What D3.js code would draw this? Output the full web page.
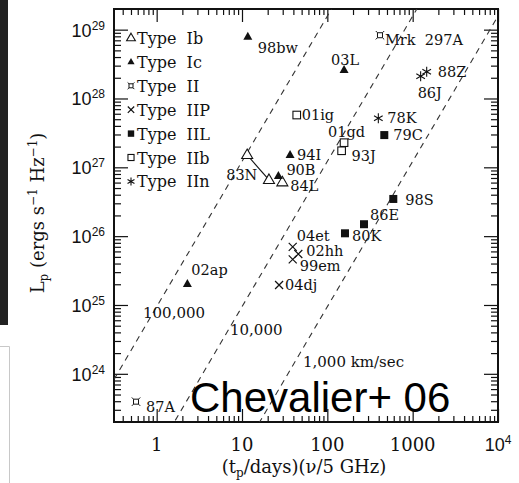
<!DOCTYPE html>
<html>
<head>
<meta charset="utf-8">
<script src="https://cdn.jsdelivr.net/npm/d3@7"></script>
<style>
  body { margin: 0; background: #fff; }
  svg { display: block; }
</style>
</head>
<body>
<div id="chart"></div>
<script>
// supernova peak radio luminosity vs (t_p)(nu_p)
const snNames = ["98bw", "03L", "Mrk 297A", "88Z", "86J", "78K", "79C", "01ig", "01gd", "93J",
                 "94I", "83N", "83N", "84L", "90B", "02ap", "04et", "02hh", "99em", "04dj",
                 "80K", "86E", "98S", "87A"];
const snTypes = ["Ic", "Ic", "II", "IIn", "IIn", "IIn", "IIL", "IIb", "IIb", "IIb",
                 "Ic", "Ib", "Ib", "Ib", "Ic", "Ic", "IIP", "IIP", "IIP", "IIP",
                 "IIL", "IIL", "IIL", "II"];
const snX = [11.7, 157, 414, 1460, 1240, 396, 465, 43.8, 157, 147,
             36.6, 11.5, 20.7, 29.7, 26.7, 2.29, 39.3, 45.7, 39.3, 27.2,
             161, 269, 593, 0.573];
const snL = [7.9e28, 2.6e28, 8.3e28, 2.45e28, 2.1e28, 5.15e27, 2.94e27, 5.75e27, 2.28e27, 1.74e27,
             1.51e27, 1.51e27, 6.55e26, 6.05e26, 7.5e26, 2.02e25, 7.0e25, 5.5e25, 4.6e25, 1.95e25,
             1.1e26, 1.49e26, 3.47e26, 3.94e23];

const legendTypes = ["Ib", "Ic", "II", "IIP", "IIL", "IIb", "IIn"];

// constant-velocity lines: L ~ x^(19/9), x where each line crosses L = 1e26
const velocities = ["100,000", "10,000", "1,000 km/sec"];
const velX26 = [3.06, 30.6, 306];
const velSlope = 19 / 9;

const xTickValues = [1, 10, 100, 1000, 10000];
const xTickLabels = ["1", "10", "100", "1000", "10^4"];
const yTickValues = [1e24, 1e25, 1e26, 1e27, 1e28, 1e29];
const yTickExp = ["24", "25", "26", "27", "28", "29"];

// label placement (offsets from marker, px)
const labelPos = {
  "98bw": [10, 16, "start"], "03L": [1, -5, "middle"], "Mrk 297A": [5, 10, "start"],
  "88Z": [11, 5, "start"], "86J": [-3, 22, "start"], "78K": [9, 5, "start"],
  "79C": [9, 5, "start"], "01ig": [5, 5, "start"], "01gd": [-16, -6, "start"],
  "93J": [10, 10, "start"], "94I": [7, 5, "start"], "83N": [-21, 25, "start"],
  "84L": [8, 9, "start"], "90B": [8, -1, "start"], "02ap": [4, -9, "start"],
  "04et": [4, -6, "start"], "02hh": [8, 2, "start"], "99em": [7, 11.5, "start"],
  "04dj": [6, 5, "start"], "80K": [7, 8, "start"], "86E": [6, -4, "start"],
  "98S": [12, 6, "start"], "87A": [10, 10, "start"]
};

const width = 519, height = 483;
const margin = {top: 9, right: 21, bottom: 61, left: 114};
const _width = width - margin.left - margin.right;
const _height = height - margin.top - margin.bottom;
const serif = "'DejaVu Serif', serif";
const sans = "'Liberation Sans', Arial, sans-serif";

const svg = d3.select("#chart")
  .append("svg")
  .attr("width", width)
  .attr("height", height);

// slide leftovers at the left edge
svg.append("rect").attr("x", 0).attr("y", 0).attr("width", 8).attr("height", 325).attr("fill", "#222");
svg.append("path").attr("d", "M0,346.5H9.5V483").attr("fill", "none").attr("stroke", "#c8c8c8").attr("stroke-width", 1);

const g = svg.append("g")
  .attr("transform", "translate(" + margin.left + "," + margin.top + ")");

const xScale = d3.scaleLog().domain([Math.pow(10, -0.5), 1e4]).range([0, _width]);
const yScale = d3.scaleLog().domain([Math.pow(10, 23.3), Math.pow(10, 29.3)]).range([_height, 0]);

// minor / major tick values
function logTicks(lo, hi) {
  let out = [];
  for (let e = Math.floor(Math.log10(lo)); e <= Math.ceil(Math.log10(hi)); e++) {
    for (let m = 1; m < 10; m++) {
      let v = m * Math.pow(10, e);
      if (v >= lo * 0.999 && v <= hi * 1.001) out.push(v);
    }
  }
  return out;
}
const xMinor = logTicks(xScale.domain()[0], 1e4).filter(v => xTickValues.indexOf(v) < 0);
const yMinor = logTicks(yScale.domain()[0], yScale.domain()[1]).filter(v => !yTickValues.some(t => Math.abs(t - v) / v < 1e-6));

function tickAxis(axis, values, size, transform) {
  let a = g.append("g")
    .attr("transform", transform || null)
    .call(axis.tickValues(values).tickSize(size).tickFormat(""));
  a.select(".domain").remove();
  a.selectAll("line").attr("stroke", "#111").attr("stroke-width", 1.2);
}
tickAxis(d3.axisBottom(xScale), xTickValues, -13, "translate(0," + _height + ")");
tickAxis(d3.axisBottom(xScale), xMinor, -6, "translate(0," + _height + ")");
tickAxis(d3.axisTop(xScale), xTickValues, -13);
tickAxis(d3.axisTop(xScale), xMinor, -6);
tickAxis(d3.axisLeft(yScale), yTickValues, -14);
tickAxis(d3.axisLeft(yScale), yMinor, -7);
tickAxis(d3.axisRight(yScale), yTickValues, -14, "translate(" + _width + ",0)");
tickAxis(d3.axisRight(yScale), yMinor, -7, "translate(" + _width + ",0)");

// frame
g.append("rect")
  .attr("width", _width).attr("height", _height)
  .attr("fill", "none").attr("stroke", "#111").attr("stroke-width", 2);

// x tick labels
xTickValues.forEach(function(v, i) {
  let lab = xTickLabels[i];
  let t = g.append("text")
    .attr("x", xScale(v)).attr("y", _height + 29)
    .attr("text-anchor", "middle").attr("fill", "#111");
  if (lab.indexOf("^") > 0) {
    let p = lab.split("^");
    t.attr("font-family", sans).attr("font-size", 18);
    t.append("tspan").text(p[0]);
    t.append("tspan").attr("dy", -7).attr("font-size", 12).text(p[1]);
  } else {
    t.attr("font-family", serif).attr("font-size", 18).text(lab);
  }
});

// y tick labels
yTickValues.forEach(function(v, i) {
  let t = g.append("text")
    .attr("x", -9).attr("y", yScale(v) + 7)
    .attr("text-anchor", "end").attr("font-family", sans).attr("font-size", 18).attr("fill", "#111");
  t.append("tspan").text("10");
  t.append("tspan").attr("dy", -7).attr("font-size", 12).text(yTickExp[i]);
});

// axis titles
let xt = svg.append("text")
  .attr("x", 304).attr("y", 473)
  .attr("text-anchor", "middle").attr("font-family", serif).attr("font-size", 18).attr("fill", "#111");
xt.append("tspan").text("(t");
xt.append("tspan").attr("dy", 4).attr("font-size", 12).text("p");
xt.append("tspan").attr("dy", -4).text("/days)(\u03bd/5 GHz)");

let yt = svg.append("text")
  .attr("transform", "translate(44,213) rotate(-90)")
  .attr("text-anchor", "middle").attr("font-family", serif).attr("font-size", 18).attr("fill", "#111");
yt.append("tspan").text("L");
yt.append("tspan").attr("dy", 4).attr("font-size", 12).text("p");
yt.append("tspan").attr("dy", -4).text(" (ergs s");
yt.append("tspan").attr("dy", -7).attr("font-size", 12).text("\u22121");
yt.append("tspan").attr("dy", 7).text(" Hz");
yt.append("tspan").attr("dy", -7).attr("font-size", 12).text("\u22121");
yt.append("tspan").attr("dy", 7).text(")");

// velocity lines
g.append("clipPath").attr("id", "clip")
  .append("rect").attr("width", _width).attr("height", _height);

const xd = xScale.domain();
velX26.forEach(function(x26) {
  let pts = [xd[0], xd[1]].map(x => [x, 1e26 * Math.pow(x / x26, velSlope)]);
  g.append("path")
    .attr("clip-path", "url(#clip)")
    .attr("d", d3.line().x(d => xScale(d[0])).y(d => yScale(d[1]))(pts))
    .attr("fill", "none").attr("stroke", "#333").attr("stroke-width", 1.1)
    .attr("stroke-dasharray", "6,5");
});

const velLabelPos = [[29, 309], [116, 326], [189, 358]];
velocities.forEach(function(v, i) {
  g.append("text")
    .attr("x", velLabelPos[i][0]).attr("y", velLabelPos[i][1])
    .attr("font-family", serif).attr("font-size", 15).attr("fill", "#111")
    .text(v);
});

// marker shapes
function drawMarker(sel, type, s) {
  let k = s || 1;
  if (type === "Ib") {
    sel.append("path").attr("d", "M0," + (-6 * k) + "L" + (5.5 * k) + "," + (3.5 * k) + "L" + (-5.5 * k) + "," + (3.5 * k) + "Z")
      .attr("fill", "#fff").attr("stroke", "#111").attr("stroke-width", 1.1);
  } else if (type === "Ic") {
    sel.append("path").attr("d", "M0," + (-5 * k) + "L" + (4.5 * k) + "," + (3 * k) + "L" + (-4.5 * k) + "," + (3 * k) + "Z")
      .attr("fill", "#111");
  } else if (type === "II") {
    let a = 2.5 * k, b = 4.2 * k;
    sel.append("path")
      .attr("d", "M" + -a + "," + -a + "H" + a + "V" + a + "H" + -a + "Z" +
        "M" + -a + "," + -a + "L" + -b + "," + -b + "M" + a + "," + -a + "L" + b + "," + -b +
        "M" + a + "," + a + "L" + b + "," + b + "M" + -a + "," + a + "L" + -b + "," + b)
      .attr("fill", "none").attr("stroke", "#111").attr("stroke-width", 1);
  } else if (type === "IIP") {
    let r = 4 * k;
    sel.append("path").attr("d", "M" + -r + "," + -r + "L" + r + "," + r + "M" + r + "," + -r + "L" + -r + "," + r)
      .attr("stroke", "#111").attr("stroke-width", 1.2);
  } else if (type === "IIL") {
    sel.append("rect").attr("x", -4 * k).attr("y", -4 * k).attr("width", 8 * k).attr("height", 8 * k).attr("fill", "#111");
  } else if (type === "IIb") {
    sel.append("rect").attr("x", -3.8 * k).attr("y", -3.8 * k).attr("width", 7.6 * k).attr("height", 7.6 * k)
      .attr("fill", "#fff").attr("stroke", "#111").attr("stroke-width", 1.1);
  } else if (type === "IIn") {
    let r = 5 * k, d = "";
    [90, 30, 150].forEach(function(ang) {
      let c = Math.cos(ang * Math.PI / 180) * r, s2 = Math.sin(ang * Math.PI / 180) * r;
      d += "M" + (-c) + "," + (-s2) + "L" + c + "," + s2;
    });
    sel.append("path").attr("d", d).attr("stroke", "#111").attr("stroke-width", 1.1);
  }
}

// 83N pair joined by a line
let i83 = snNames.reduce((acc, n, i) => n === "83N" ? acc.concat(i) : acc, []);
g.append("line")
  .attr("x1", xScale(snX[i83[0]])).attr("y1", yScale(snL[i83[0]]))
  .attr("x2", xScale(snX[i83[1]])).attr("y2", yScale(snL[i83[1]]))
  .attr("stroke", "#111").attr("stroke-width", 1.1);

snNames.forEach(function(name, i) {
  let px = xScale(snX[i]), py = yScale(snL[i]);
  let m = g.append("g").attr("transform", "translate(" + px + "," + py + ")");
  drawMarker(m, snTypes[i]);
});

let labelled = {};
snNames.forEach(function(name, i) {
  if (labelled[name]) return;
  labelled[name] = true;
  let p = labelPos[name];
  g.append("text")
    .attr("x", xScale(snX[i]) + p[0]).attr("y", yScale(snL[i]) + p[1])
    .attr("text-anchor", p[2])
    .attr("font-family", serif).attr("font-size", 14.5).attr("fill", "#111")
    .style("white-space", "pre")
    .text(name.replace(" ", "  "));
});

// legend
legendTypes.forEach(function(t, i) {
  let ly = 29 + i * 23.9;
  let m = g.append("g").attr("transform", "translate(" + 17 + "," + ly + ")");
  drawMarker(m, t, 0.8);
  g.append("text")
    .attr("x", 23).attr("y", ly + 6)
    .attr("font-family", serif).attr("font-size", 16).attr("fill", "#111")
    .style("white-space", "pre")
    .text("Type  " + t);
});

// slide annotation
svg.append("text")
  .attr("x", 190).attr("y", 412)
  .attr("font-family", sans).attr("font-size", 42).attr("fill", "#000")
  .text("Chevalier+ 06");
</script>
</body>
</html>
